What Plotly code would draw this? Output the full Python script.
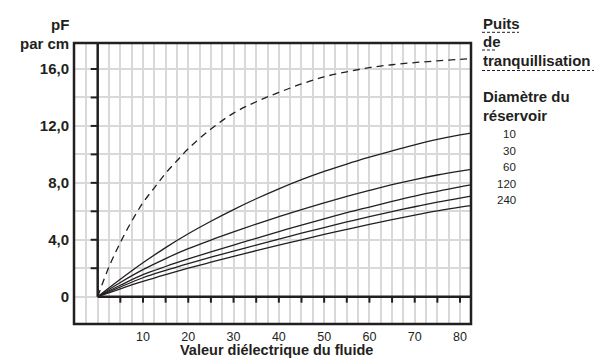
import plotly.graph_objects as go

# ---- data -------------------------------------------------------------
well_x = [0, 2.5, 5, 7.5, 10, 12.5, 15, 17.5, 20, 25, 30, 35, 40, 45, 50,
          55, 60, 65, 70, 75, 80, 82.4]
well_pf = [0, 2.1, 3.8, 5.3, 6.6, 7.65, 8.67, 9.55, 10.4, 11.78, 12.9, 13.7,
           14.35, 14.95, 15.45, 15.8, 16.1, 16.3, 16.45, 16.57, 16.68, 16.72]

tank_x = [0, 5, 10, 15, 20, 25, 30, 35, 40, 45, 50, 55, 60, 65, 70, 75, 80, 82.4]
tank_10 = [0, 1.22, 2.38, 3.45, 4.42, 5.3, 6.12, 6.88, 7.58, 8.22, 8.8, 9.32,
           9.8, 10.25, 10.67, 11.05, 11.37, 11.5]
tank_30 = [0, 1.0, 1.9, 2.68, 3.37, 3.98, 4.55, 5.1, 5.62, 6.12, 6.6, 7.05,
           7.47, 7.87, 8.23, 8.55, 8.83, 8.95]
tank_60 = [0, 0.8, 1.55, 2.12, 2.65, 3.15, 3.63, 4.1, 4.57, 5.03, 5.47, 5.9,
           6.3, 6.7, 7.07, 7.4, 7.72, 7.85]
tank_120 = [0, 0.68, 1.33, 1.85, 2.33, 2.78, 3.2, 3.63, 4.05, 4.46, 4.86,
            5.25, 5.62, 5.98, 6.32, 6.64, 6.93, 7.06]
tank_240 = [0, 0.55, 1.07, 1.55, 2.0, 2.42, 2.83, 3.23, 3.62, 4.0, 4.37,
            4.73, 5.08, 5.41, 5.73, 6.03, 6.3, 6.4]

tank_diameters = ["10", "30", "60", "120", "240"]

x_grid = [-2.5, 0, 2.5, 5, 7.5, 10, 12.5, 15, 17.5, 20, 22.5, 25, 27.5, 30,
          32.5, 35, 37.5, 40, 42.5, 45, 47.5, 50, 52.5, 55, 57.5, 60, 62.5,
          65, 67.5, 70, 72.5, 75, 77.5, 80]
x_labelled = [10, 20, 30, 40, 50, 60, 70, 80]
x_minor_ticks = [5, 10, 15, 20, 25, 30, 35, 40, 45, 50, 55, 60, 65, 70, 75, 80]

y_grid = [0, 2, 4, 6, 8, 10, 12, 14, 16]
y_labels = {0: "0", 4: "4,0", 8: "8,0", 12: "12,0", 16: "16,0"}
y_minor_ticks = [2, 4, 6, 8, 10, 12, 14, 16]

# ---- layout geometry --------------------------------------------------
W, H = 603, 359
M_L, M_R, M_T, M_B = 74, 132, 43, 35
PW, PH = W - M_L - M_R, H - M_T - M_B
X_RANGE = [-5.23, -5.23 + PW / 4.529]
Y_RANGE = [-1.92, -1.92 + PH / 14.23]

INK = "#231f20"
GRID = "#d9d9d9"
FONT = "Liberation Sans, Arial, sans-serif"


def fx(p):
    return (p - M_L) / PW


def fy(p):
    return (H - M_B - p) / PH


fig = go.Figure()

fig.add_trace(go.Scatter(
    x=well_x, y=well_pf, mode="lines", line_shape="spline",
    line=dict(color=INK, width=1.3, dash="7px,5px"), showlegend=False,
    hoverinfo="skip"))

for series in (tank_10, tank_30, tank_60, tank_120, tank_240):
    fig.add_trace(go.Scatter(
        x=tank_x, y=series, mode="lines", line_shape="spline",
        line=dict(color=INK, width=1.3), showlegend=False, hoverinfo="skip"))

shapes = []
# axes through the origin
shapes.append(dict(type="line", xref="x", yref="y", x0=0, x1=0, y0=0,
                   y1=Y_RANGE[1], line=dict(color=INK, width=2.5)))
shapes.append(dict(type="line", xref="x", yref="y", x0=0, x1=X_RANGE[1],
                   y0=0, y1=0, line=dict(color=INK, width=2.5)))
# tick marks
for v in y_minor_ticks:
    shapes.append(dict(type="line", xref="x", yref="y", xsizemode="pixel",
                       xanchor=0, x0=-7, x1=0, y0=v, y1=v,
                       line=dict(color=INK, width=2)))
for v in x_minor_ticks:
    shapes.append(dict(type="line", xref="x", yref="y", ysizemode="pixel",
                       yanchor=0, y0=-6, y1=0, x0=v, x1=v,
                       line=dict(color=INK, width=2)))
# frame
shapes.append(dict(type="rect", xref="paper", yref="paper", x0=0, x1=1,
                   y0=0, y1=1, line=dict(color=INK, width=2.5)))

# dashed underlines of the stilling-well legend
legend_left = 482
for y_px, right in ((32.3, 519), (50, 496), (70.5, 594)):
    shapes.append(dict(type="line", xref="paper", yref="paper",
                       x0=fx(legend_left), x1=fx(right), y0=fy(y_px),
                       y1=fy(y_px),
                       line=dict(color=INK, width=1, dash="3px,2px")))

annotations = []


def text(t, x_px, y_px, size, anchor="left", bold=True):
    annotations.append(dict(
        text=f"<b>{t}</b>" if bold else t, x=fx(x_px), y=fy(y_px),
        xref="paper", yref="paper", xanchor=anchor, yanchor="middle",
        showarrow=False, font=dict(family=FONT, size=size, color=INK),
        borderpad=0))


text("pF", 70, 25, 15, anchor="right")
text("par cm", 70, 43.5, 15, anchor="right")
text("Puits", legend_left, 23, 15)
text("de", legend_left, 41, 15)
text("tranquillisation", legend_left, 60, 15)
text("Diamètre du", legend_left, 96.5, 15)
text("réservoir", legend_left, 115.5, 15)
for i, d in enumerate(tank_diameters):
    text(d, 517, 134.3 + i * 16.4, 11.5, anchor="right", bold=False)
text("Valeur diélectrique du fluide", 276.5, 350.3, 14.5, anchor="center")

fig.update_layout(
    width=W, height=H,
    margin=dict(l=M_L, r=M_R, t=M_T, b=M_B, pad=0, autoexpand=False),
    paper_bgcolor="white", plot_bgcolor="white",
    font=dict(family=FONT, color=INK),
    shapes=shapes, annotations=annotations,
    xaxis=dict(
        range=X_RANGE, tickmode="array", tickvals=x_grid,
        ticktext=[str(v) if v in x_labelled else "" for v in x_grid],
        showgrid=True, gridcolor=GRID, gridwidth=1.5, zeroline=False,
        showline=False, ticks="", ticklabelstandoff=3, automargin=False,
        tickfont=dict(family=FONT, size=12.5, color=INK),
    ),
    yaxis=dict(
        range=Y_RANGE, tickmode="array", tickvals=y_grid,
        ticktext=[f"<b>{y_labels[v]}</b>" if v in y_labels else "" for v in y_grid],
        showgrid=True, gridcolor=GRID, gridwidth=1.5, zeroline=False,
        showline=False, ticks="", ticklabelstandoff=4, automargin=False,
        tickfont=dict(family=FONT, size=15, color=INK),
    ),
)

fig.write_html("out.html")
